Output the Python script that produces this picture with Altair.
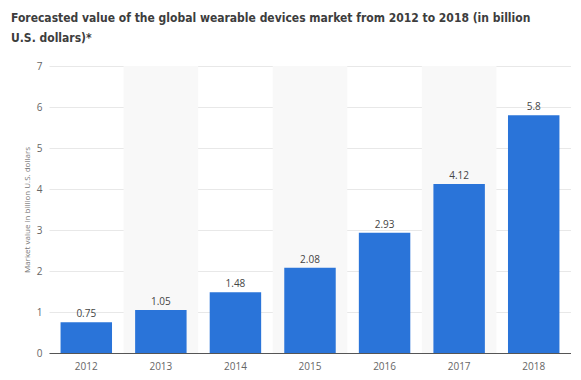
import altair as alt
import pandas as pd

years = ["2012", "2013", "2014", "2015", "2016", "2017", "2018"]
values = [0.75, 1.05, 1.48, 2.08, 2.93, 4.12, 5.8]
shaded_years = ["2013", "2015", "2017"]
y_ticks = [0, 1, 2, 3, 4, 5, 6, 7]

title_lines = [
    "Forecasted value of the global wearable devices market from 2012 to 2018 (in billion",
    "U.S. dollars)*",
]
y_title = "Market value in billion U.S. dollars"

bars_df = pd.DataFrame({"year": years, "value": values})
bands_df = pd.DataFrame({"year": shaded_years, "top": [7] * len(shaded_years), "bottom": [0] * len(shaded_years)})

x_scale = alt.Scale(domain=years, paddingInner=0, paddingOuter=0)
y_scale = alt.Scale(domain=[0, 7], nice=False)

x_axis = alt.Axis(
    title=None, labelAngle=0, ticks=False, domainColor="#555555", domainWidth=1,
    labelColor="#666666", labelFontSize=10, labelPadding=8, labelFont="Open Sans",
    grid=False,
)
y_axis = alt.Axis(
    title=y_title, values=y_ticks, domain=False, ticks=False, grid=True,
    gridColor="#e8e8e8",
    labelColor="#666666", labelFontSize=10, labelPadding=7, labelFont="Open Sans",
    titleFontSize=8, titleFontWeight="normal", titleColor="#777777", titlePadding=5,
    titleFont="Open Sans",
)

bands = alt.Chart(bands_df).mark_rect(color="#f8f8f8").encode(
    x=alt.X("year:N", scale=x_scale, axis=x_axis, sort=years),
    y=alt.Y("top:Q", scale=y_scale, axis=y_axis),
    y2="bottom:Q",
)

bars = alt.Chart(bars_df).mark_bar(color="#2a74d9", width=alt.RelativeBandSize(0.69)).encode(
    x=alt.X("year:N", scale=x_scale, axis=x_axis, sort=years),
    y=alt.Y("value:Q", scale=y_scale, axis=y_axis),
)

labels = alt.Chart(bars_df).mark_text(
    dy=-5, color="#444444", fontSize=10, font="Open Sans", baseline="alphabetic"
).encode(
    x=alt.X("year:N", scale=x_scale, axis=x_axis, sort=years),
    y=alt.Y("value:Q", scale=y_scale, axis=y_axis),
    text=alt.Text("value:Q"),
)

chart = alt.layer(bands, bars, labels).properties(
    width=522,
    height=287,
    padding={"left": 41, "top": 58, "right": 0, "bottom": 24},
    autosize=alt.AutoSizeParams(type="none"),
    title=alt.TitleParams(
        text=title_lines, anchor="start", frame="group", dx=-38,
        font="DejaVu Sans Condensed, Liberation Sans Narrow, Roboto", fontSize=12,
        fontWeight="bold", color="#3d3d3d",
        lineHeight=20, offset=16,
    ),
).configure_view(stroke=None)

chart.save("out.html", embed_options={"renderer": "svg", "actions": False})
